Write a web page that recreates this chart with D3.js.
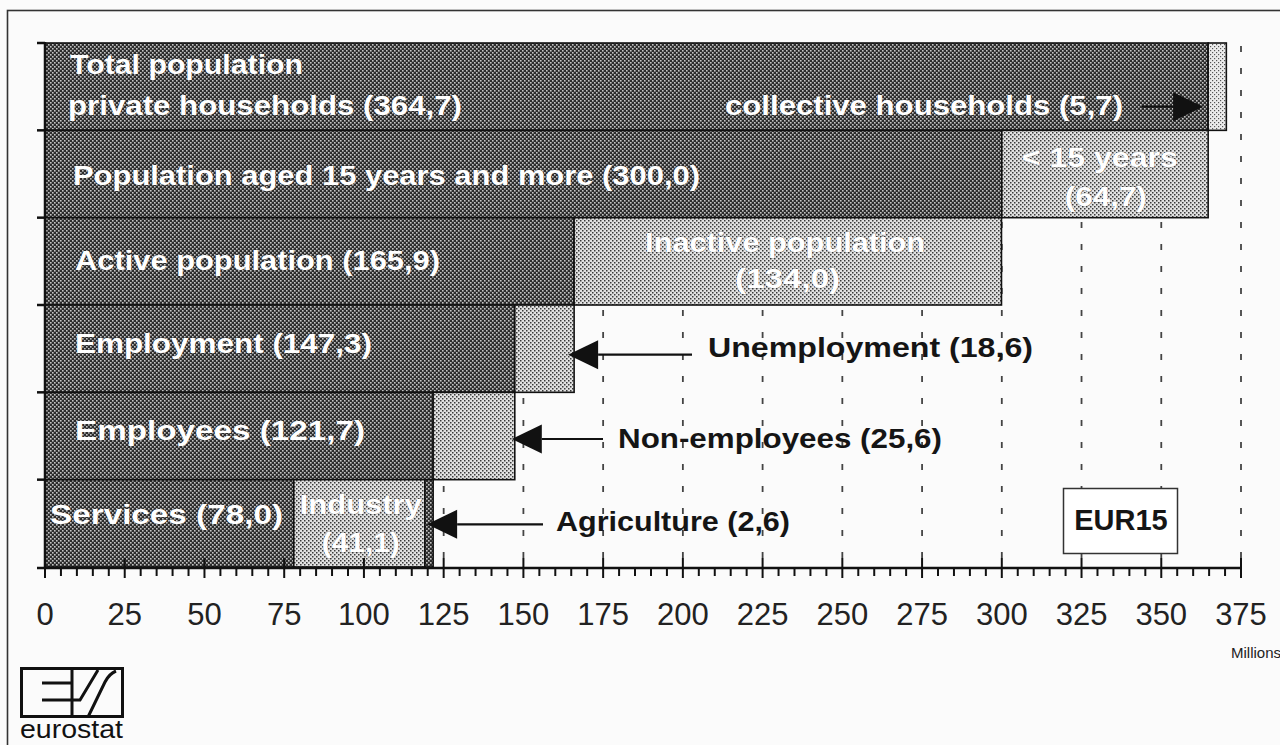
<!DOCTYPE html>
<html>
<head>
<meta charset="utf-8">
<script src="https://cdn.jsdelivr.net/npm/d3@7"></script>
<style>
  html, body { margin: 0; padding: 0; background: #fbfbfb; }
  svg { display: block; }
  text { font-family: "Liberation Sans", Arial, Helvetica, sans-serif; }
</style>
</head>
<body>
<svg id="chart" width="1280" height="745"></svg>
<script>
// ---------------- DATA ----------------
const rows = ["Total population", "Population aged 15 years and more", "Active population", "Employment", "Employees", "Sectors"];
const mainNames = ["private households", "Population aged 15 years and more", "Active population", "Employment", "Employees", "Services"];
const mainValues = [364.7, 300.0, 165.9, 147.3, 121.7, 78.0];
const secondNames = ["collective households", "< 15 years", "Inactive population", "Unemployment", "Non-employees", "Industry"];
const secondValues = [5.7, 64.7, 134.0, 18.6, 25.6, 41.1];
const thirdNames = ["", "", "", "", "", "Agriculture"];
const thirdValues = [0, 0, 0, 0, 0, 2.6];
const xTickValues = [0, 25, 50, 75, 100, 125, 150, 175, 200, 225, 250, 275, 300, 325, 350, 375];
const unitLabel = "Millions";
const regionLabel = "EUR15";

// ---------------- SETUP ----------------
const svg = d3.select("#chart");
const x = d3.scaleLinear().domain([0, 375]).range([45, 1241]);
const y = d3.scaleBand().domain(rows).range([43, 567]).padding(0);
const axisY = 568;
const fmt = v => d3.format(".1f")(v).replace(".", ",");

const defs = svg.append("defs");
function dotPattern(id, bg, dot, size) {
  const p = defs.append("pattern").attr("id", id).attr("patternUnits", "userSpaceOnUse")
    .attr("width", 4).attr("height", 4);
  p.append("rect").attr("width", 4).attr("height", 4).attr("fill", bg);
  p.append("rect").attr("x", 0).attr("y", 0).attr("width", size).attr("height", size).attr("fill", dot);
  p.append("rect").attr("x", 2).attr("y", 2).attr("width", size).attr("height", size).attr("fill", dot);
}
dotPattern("dark", "#2c2c2c", "#c4c4c4", 1.6);
dotPattern("light", "#e2e2e2", "#3a3a3a", 1.5);
dotPattern("lighter", "#ececec", "#555", 1.2);

// frame
svg.append("rect").attr("x", 7.5).attr("y", 10.5).attr("width", 1300).attr("height", 800)
  .attr("fill", "none").attr("stroke", "#333").attr("stroke-width", 1.6);

// gridlines
svg.append("g").selectAll("line").data(xTickValues.filter(d => d > 0)).join("line")
  .attr("x1", d => x(d)).attr("x2", d => x(d)).attr("y1", 46).attr("y2", axisY)
  .attr("stroke", "#444").attr("stroke-width", 1.8).attr("stroke-dasharray", "6,16");

// build segments
const segs = [];
rows.forEach((r, i) => {
  segs.push({row: r, x0: 0, x1: mainValues[i], fill: "url(#dark)"});
  segs.push({row: r, x0: mainValues[i], x1: mainValues[i] + secondValues[i], fill: i === 0 ? "url(#lighter)" : "url(#light)"});
  if (thirdValues[i] > 0) {
    const s = mainValues[i] + secondValues[i];
    segs.push({row: r, x0: s, x1: s + thirdValues[i], fill: "url(#dark)"});
  }
});
svg.append("g").selectAll("rect").data(segs).join("rect")
  .attr("x", d => x(d.x0)).attr("width", d => x(d.x1) - x(d.x0))
  .attr("y", d => y(d.row)).attr("height", y.bandwidth())
  .attr("fill", d => d.fill).attr("stroke", "#111").attr("stroke-width", 1.6);

// axes
const xAxis = svg.append("g");
xAxis.append("line").attr("x1", 37).attr("x2", x(375)).attr("y1", axisY).attr("y2", axisY)
  .attr("stroke", "#111").attr("stroke-width", 2.5);
xAxis.selectAll("line.minor").data(d3.range(0, 376, 5)).join("line").attr("class", "minor")
  .attr("x1", d => x(d)).attr("x2", d => x(d))
  .attr("y1", d => d % 25 === 0 ? axisY - 10 : axisY)
  .attr("y2", d => d % 25 === 0 ? axisY + 10 : axisY + 8)
  .attr("stroke", "#111").attr("stroke-width", 2);
xAxis.selectAll("text").data(xTickValues).join("text")
  .attr("x", d => x(d)).attr("y", 625).attr("text-anchor", "middle")
  .attr("font-size", 31).attr("fill", "#222").text(d => d);
svg.append("text").attr("x", 1231).attr("y", 658).attr("font-size", 15).attr("fill", "#222").text(unitLabel);

const yAxis = svg.append("g");
yAxis.append("line").attr("x1", 45).attr("x2", 45).attr("y1", 42).attr("y2", axisY)
  .attr("stroke", "#111").attr("stroke-width", 2.5);
yAxis.selectAll("line.t").data(rows).join("line").attr("class", "t")
  .attr("x1", 37).attr("x2", 45).attr("y1", d => y(d)).attr("y2", d => y(d))
  .attr("stroke", "#111").attr("stroke-width", 2.5);

// ---------------- LABELS ----------------
const bc = i => y(rows[i]) + y.bandwidth() / 2;
function label(txt, px, cy, len, color, size) {
  size = size || 28;
  const t = svg.append("text").attr("x", px).attr("y", cy + size * 0.36)
    .attr("font-size", size).attr("font-weight", "bold").attr("fill", color).text(txt);
  if (len) t.attr("textLength", len).attr("lengthAdjust", "spacingAndGlyphs");
  if (color === "#fff") t.attr("stroke", "rgba(40,40,40,0.35)").attr("stroke-width", 0.8).attr("paint-order", "stroke");
  return t;
}
const W = "#fff", B = "#151515";
// row 1
label(rows[0], x(0) + 25, bc(0) - 23, 233, W);
label(`${mainNames[0]} (${fmt(mainValues[0])})`, x(0) + 23, bc(0) + 18, 394, W);
label(`${secondNames[0]} (${fmt(secondValues[0])})`, 725, bc(0) + 18, 398, W);
// row 2
label(`${mainNames[1]} (${fmt(mainValues[1])})`, x(0) + 28, bc(1) + 1, 627, W);
label(secondNames[1], x(mainValues[1]) + 20, bc(1) - 17, 156, W);
label(`(${fmt(secondValues[1])})`, x(mainValues[1]) + 63, bc(1) + 22, 82, W);
// row 3
label(`${mainNames[2]} (${fmt(mainValues[2])})`, x(0) + 30, bc(2) - 1, 365, W);
label(secondNames[2], x(mainValues[2]) + 71, bc(2) - 19, 280, W);
label(`(${fmt(secondValues[2])})`, x(mainValues[2]) + 161, bc(2) + 17, 105, W);
// row 4
label(`${mainNames[3]} (${fmt(mainValues[3])})`, x(0) + 30, bc(3) - 6, 297, W);
label(`${secondNames[3]} (${fmt(secondValues[3])})`, 708, bc(3) - 1, 325, B, 27);
// row 5
label(`${mainNames[4]} (${fmt(mainValues[4])})`, x(0) + 30, bc(4) - 6, 290, W);
label(`${secondNames[4]} (${fmt(secondValues[4])})`, 618, bc(4) + 2, 324, B, 27);
// row 6
label(`${mainNames[5]} (${fmt(mainValues[5])})`, x(0) + 5, bc(5) - 9, 233, W);
label(secondNames[5], x(mainValues[5]) + 6, bc(5) - 19, 122, W);
label(`(${fmt(secondValues[5])})`, x(mainValues[5]) + 28, bc(5) + 19, 78, W);
label(`${thirdNames[5]} (${fmt(thirdValues[5])})`, 556, bc(5) - 2, 234, B, 27);

// arrows
function arrow(fromX, tipX, yy) {
  const dir = tipX > fromX ? 1 : -1;
  const baseX = tipX - dir * 30;
  svg.append("line").attr("x1", fromX).attr("x2", baseX).attr("y1", yy).attr("y2", yy)
    .attr("stroke", "#111").attr("stroke-width", 2.2);
  svg.append("path").attr("d", `M${tipX},${yy} L${baseX},${yy - 14.5} L${baseX},${yy + 14.5} Z`).attr("fill", "#111");
}
arrow(1142, x(mainValues[0]) - 5, bc(0) + 20);
arrow(692, x(mainValues[2]) - 6, bc(3) + 6);
arrow(603, x(mainValues[3]) - 3, bc(4) + 3);
arrow(543, x(mainValues[4]) - 6, bc(5) + 1);

// EUR15 box
svg.append("rect").attr("x", 1063.5).attr("y", 488.5).attr("width", 114).attr("height", 65)
  .attr("fill", "#fff").attr("stroke", "#333").attr("stroke-width", 1.5);
svg.append("text").attr("x", 1121).attr("y", 530).attr("text-anchor", "middle")
  .attr("font-size", 29).attr("font-weight", "bold").attr("fill", "#151515").text(regionLabel);

// eurostat logo
const logo = svg.append("g").attr("stroke", "#111").attr("stroke-width", 3).attr("fill", "none");
logo.append("rect").attr("x", 21.5).attr("y", 668.5).attr("width", 101).attr("height", 48);
logo.append("path").attr("d", "M72,668 L72,717 M42,683 L72,683 M42,700 L80,700 L98,670 M88,717 L105,682 Q109,674 116,671");
svg.append("text").attr("x", 20).attr("y", 738).attr("font-size", 26).attr("fill", "#111")
  .attr("textLength", 103).attr("lengthAdjust", "spacingAndGlyphs").text("eurostat");
</script>
</body>
</html>
